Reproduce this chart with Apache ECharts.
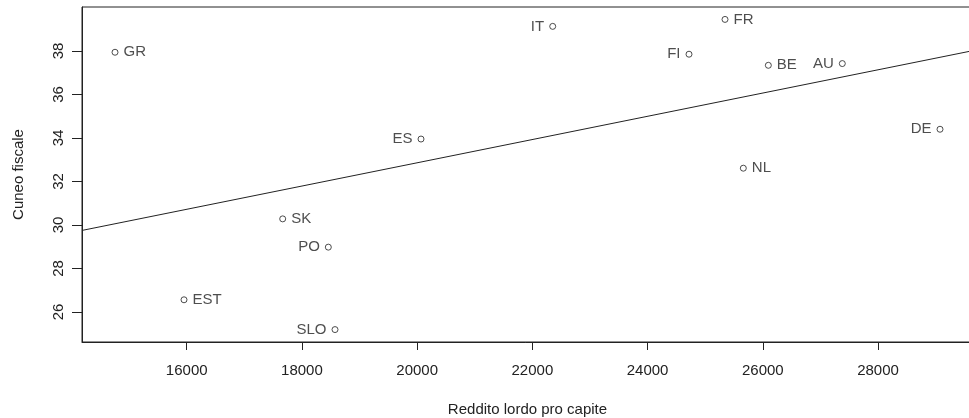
<!DOCTYPE html>
<html>
<head>
<meta charset="utf-8">
<script src="https://cdn.jsdelivr.net/npm/echarts@6/dist/echarts.min.js"></script>
<style>html,body{margin:0;padding:0;background:#fff;}#c{width:969px;height:418px;}</style>
</head>
<body>
<div id="c"></div>
<script>
const countries = ['GR','EST','SK','PO','SLO','ES','IT','FR','FI','BE','AU','DE','NL'];
const reddito = [14755, 15953, 17666, 18458, 18574, 20067, 22353, 25344, 24719, 26096, 27380, 29076, 25662];
const cuneo = [37.94, 26.56, 30.28, 28.98, 25.19, 33.95, 39.13, 39.45, 37.85, 37.34, 37.42, 34.40, 32.61];
const xTicks = [16000, 18000, 20000, 22000, 24000, 26000, 28000];
const yTicks = [26, 28, 30, 32, 34, 36, 38];

// label placement (style)
const leftLabel = new Set(['PO','SLO','ES','IT','FI','AU','DE']);

// R-style axis limits (4% extension)
function rlim(a){const mn=Math.min(...a),mx=Math.max(...a),d=(mx-mn)*0.04;return [mn-d,mx+d];}
const [xmin,xmax]=rlim(reddito);
const [ymin,ymax]=rlim(cuneo);

// least squares fit (abline(lm(y~x)))
const n=reddito.length;
const mx=reddito.reduce((s,v)=>s+v,0)/n, my=cuneo.reduce((s,v)=>s+v,0)/n;
let sxy=0,sxx=0;
for(let i=0;i<n;i++){sxy+=(reddito[i]-mx)*(cuneo[i]-my);sxx+=(reddito[i]-mx)**2;}
const slope=sxy/sxx, icpt=my-slope*mx;

const textColor='#222';
const font='Liberation Sans, Arial, sans-serif';
const fs=15;

const pts = countries.map((c,i)=>({
  name:c, value:[reddito[i],cuneo[i]],
  label:{position: leftLabel.has(c)?'left':'right'}
}));

const chart=echarts.init(document.getElementById('c'),null,{renderer:'canvas'});
chart.setOption({
  animation:false,
  backgroundColor:'#fff',
  grid:{left:82, top:7, width:891, height:335, containLabel:false, outerBoundsMode:'none',
        show:true, borderColor:'#222', borderWidth:1, backgroundColor:'transparent'},
  xAxis:{
    type:'value', min:xmin, max:xmax,
    name:'Reddito lordo pro capite', nameLocation:'middle', nameGap:60,
    nameTextStyle:{color:textColor, fontSize:fs, fontFamily:font},
    axisLine:{show:true, lineStyle:{color:'#222', width:1}},
    axisTick:{show:true, inside:false, length:8, customValues:xTicks, lineStyle:{color:'#222'}},
    axisLabel:{customValues:xTicks, color:textColor, fontSize:fs, fontFamily:font, margin:21, formatter:v=>String(v)},
    splitLine:{show:false}
  },
  yAxis:{
    type:'value', min:ymin, max:ymax,
    name:'Cuneo fiscale', nameLocation:'middle', nameGap:56, nameRotate:90,
    nameTextStyle:{color:textColor, fontSize:fs, fontFamily:font},
    axisLine:{show:true, lineStyle:{color:'#222', width:1}},
    axisTick:{show:true, inside:false, length:10, customValues:yTicks, lineStyle:{color:'#222'}},
    axisLabel:{customValues:yTicks, color:textColor, fontSize:fs, fontFamily:font, rotate:90, margin:16, formatter:v=>String(v)},
    splitLine:{show:false}
  },
  series:[
    {
      type:'line', silent:true, symbol:'none', clip:true,
      data:[[xmin, icpt+slope*xmin],[xmax, icpt+slope*xmax]],
      lineStyle:{color:'#222', width:1}
    },
    {
      type:'scatter', symbol:'circle', symbolSize:6,
      itemStyle:{color:'#fff', borderColor:'#222', borderWidth:1},
      label:{show:true, formatter:'{b}', color:textColor, fontSize:fs, fontFamily:font, distance:5},
      data:pts
    }
  ]
});
</script>
</body>
</html>
